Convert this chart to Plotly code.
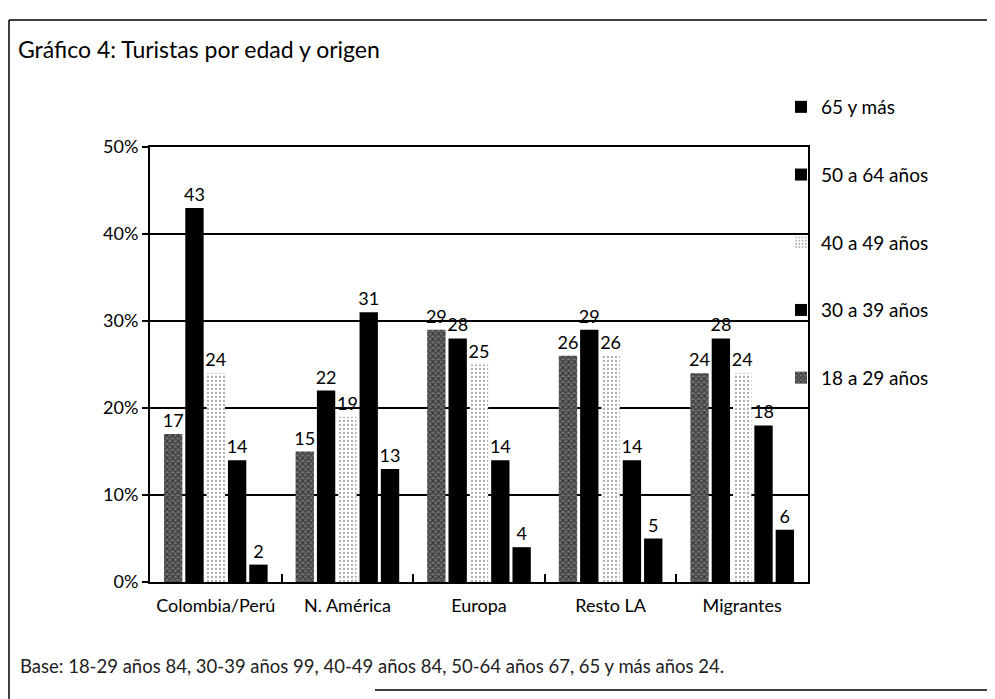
import plotly.graph_objects as go

categories = ["Colombia/Perú", "N. América", "Europa", "Resto LA", "Migrantes"]
series_names = ["18 a 29 años", "30 a 39 años", "40 a 49 años", "50 a 64 años", "65 y más"]
v_18_29 = [17, 15, 29, 26, 24]
v_30_39 = [43, 22, 28, 29, 28]
v_40_49 = [24, 19, 25, 26, 24]
v_50_64 = [14, 31, 14, 14, 18]
v_65_mas = [2, 13, 4, 5, 6]
values = [v_18_29, v_30_39, v_40_49, v_50_64, v_65_mas]
y_ticks = [0, 10, 20, 30, 40, 50]
y_ticklabels = ["0%", "10%", "20%", "30%", "40%", "50%"]

FONT = "Lato, 'Open Sans', sans-serif"

# page is rendered with an 8px body offset; layout compensates for it
OFF = 8
L, R_EDGE, T, B_EDGE = 150 - OFF, 808 - OFF, 147 - OFF, 582 - OFF
PW, PH = R_EDGE - L, B_EDGE - T


def px(xs):
    return (xs - OFF - L) / PW


def py(ys):
    return (B_EDGE - (ys - OFF)) / PH


styles = [
    dict(color="#555555", pattern=dict(shape="x", fgcolor="#000000", bgcolor="#707070", size=4, solidity=0.5, fillmode="overlay")),
    dict(color="#000000"),
    dict(color="#ffffff", pattern=dict(shape=".", fgcolor="#555555", bgcolor="#ffffff", size=4, solidity=0.25, fillmode="overlay")),
    dict(color="#000000"),
    dict(color="#000000"),
]
ranks = [5, 4, 3, 2, 1]

fig = go.Figure()
for i, (name, vals) in enumerate(zip(series_names, values)):
    st = styles[i]
    marker = dict(color=st["color"], line=dict(width=0))
    if "pattern" in st:
        marker["pattern"] = st["pattern"]
    fig.add_trace(go.Bar(
        x=categories, y=vals, name=name, legendgroup=name, legendrank=ranks[i],
        marker=marker,
        text=[str(v) for v in vals], textposition="outside", constraintext="none",
        textfont=dict(family=FONT, size=18, color="#000000"),
        cliponaxis=False,
    ))

fig.update_layout(
    width=995, height=699,
    paper_bgcolor="white", plot_bgcolor="white",
    margin=dict(l=L, r=995 - R_EDGE, t=T, b=699 - B_EDGE),
    barmode="group", bargap=0.19, bargroupgap=0.14,
    font=dict(family=FONT, size=16, color="#000000"),
    title=dict(text="Gráfico 4: Turistas por edad y origen", x=(18 - OFF) / 995, xref="container", xanchor="left",
               y=1 - (50 - OFF) / 699, yref="container", yanchor="middle",
               font=dict(family=FONT, size=23, color="#000000")),
    legend=dict(x=px(781), y=py(88), xanchor="left", yanchor="top", traceorder="grouped",
                tracegroupgap=40, font=dict(family=FONT, size=19, color="#000000"),
                bgcolor="rgba(255,255,255,0)", itemwidth=30),
    showlegend=True,
)
fig.update_xaxes(showline=True, linecolor="#000000", linewidth=2, mirror=True,
                 ticks="inside", tickson="boundaries", ticklen=8, tickcolor="#000000", tickwidth=2,
                 ticklabelstandoff=6,
                 tickfont=dict(family=FONT, size=18, color="#000000"), showgrid=False)
fig.update_yaxes(range=[0, 50], tickvals=y_ticks, ticktext=y_ticklabels,
                 showline=True, linecolor="#000000", linewidth=2, mirror=True,
                 showgrid=True, gridcolor="#000000", gridwidth=1.5,
                 ticks="outside", ticklen=6, tickcolor="#000000", tickwidth=1.5,
                 tickfont=dict(family=FONT, size=18, color="#000000"), zeroline=False)

fig.add_annotation(text="Base: 18-29 años 84, 30-39 años 99, 40-49 años 84, 50-64 años 67, 65 y más años 24.",
                   xref="paper", yref="paper", x=px(18), y=py(666),
                   xanchor="left", yanchor="middle", showarrow=False,
                   font=dict(family=FONT, size=18.5, color="#222222"))

# decorative page frame lines
fig.add_shape(type="line", xref="paper", yref="paper", x0=px(9), x1=px(1010),
              y0=py(20), y1=py(20), line=dict(color="#000000", width=1.5))
fig.add_shape(type="line", xref="paper", yref="paper", x0=px(9), x1=px(9),
              y0=py(20), y1=py(710), line=dict(color="#000000", width=1.5))
fig.add_shape(type="line", xref="paper", yref="paper", x0=px(375), x1=px(1010),
              y0=py(690), y1=py(690), line=dict(color="#000000", width=1.5))

fig.write_html("out.html")
